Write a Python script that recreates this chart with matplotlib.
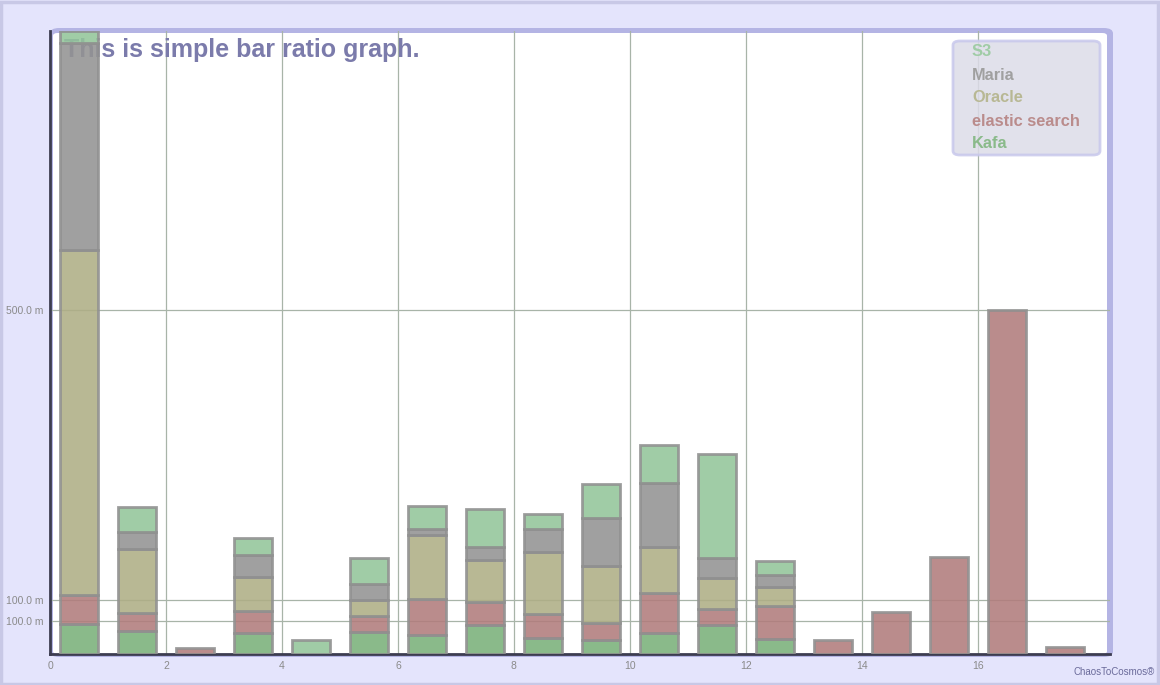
import numpy as np
import matplotlib.pyplot as plt
from matplotlib.patches import FancyBboxPatch, Rectangle

# bar ratio data (values in milli units)
series_names = ['Kafa', 'elastic search', 'Oracle', 'Maria', 'S3']
kafa    = [44, 33, 0, 31, 0, 32, 28, 42, 23, 20, 31, 42, 22, 0, 0, 0, 0, 0]
elastic = [42, 26, 9, 32, 0, 23, 52, 33, 35, 25, 57, 23, 48, 20, 61, 141, 500, 10]
oracle  = [501, 93, 0, 49, 0, 23, 93, 61, 90, 83, 67, 45, 28, 0, 0, 0, 0, 0]
maria   = [301, 25, 0, 32, 0, 23, 9, 20, 33, 70, 94, 29, 17, 0, 0, 0, 0, 0]
s3      = [17, 36, 0, 25, 20, 38, 33, 54, 22, 49, 54, 151, 20, 0, 0, 0, 0, 0]

y_ticks = [48, 78.5, 500]
y_tick_labels = ['100.0 m', '100.0 m', '500.0 m']
x_ticks = [0, 2, 4, 6, 8, 10, 12, 14, 16]

# shown colours (over white) and the base colours used with alpha
shown_colors = ['#8aba8a', '#ba8c8c', '#b8b894', '#a0a0a0', '#a0cca6']
base_colors = ['#7ab17a', '#b17c7c', '#aeae85', '#939393', '#93c59a']

fig = plt.figure(figsize=(11.6, 6.85), dpi=100)
fig.patch.set_facecolor('#e4e4fc')
W, H = 1160.0, 685.0

# outer frame of the figure
fig.patches.append(Rectangle((0.001, 0.002), 0.997, 0.995, transform=fig.transFigure,
                             fill=False, edgecolor='#c8c8e6', linewidth=2.5, zorder=-3))

# rounded lavender border and white panel behind the plot
fig.patches.append(FancyBboxPatch((50 / W, (H - 657) / H), 1063 / W, 629 / H,
                                  boxstyle='round,pad=0,rounding_size=0.008',
                                  transform=fig.transFigure, facecolor='#b4b4e4',
                                  edgecolor='none', zorder=-2))
fig.patches.append(FancyBboxPatch((53 / W, (H - 654) / H), 1054 / W, 621 / H,
                                  boxstyle='round,pad=0,rounding_size=0.004',
                                  transform=fig.transFigure, facecolor='white',
                                  edgecolor='none', zorder=-1))

ax = fig.add_axes([50 / W, 31 / H, 1060 / W, 623 / H])
ax.set_facecolor('none')

data = [kafa, elastic, oracle, maria, s3]
x = np.arange(len(kafa)) + 0.5
bottom = np.zeros(len(kafa))
for name, vals, col in zip(series_names, data, base_colors):
    vals = np.array(vals, dtype=float)
    mask = vals > 0
    ax.bar(x[mask], vals[mask], width=0.65, bottom=bottom[mask], color=col, alpha=0.88,
           edgecolor='#909090', linewidth=2, zorder=3)
    bottom += vals

ax.set_xlim(0, 18.28)
ax.set_ylim(0, 905)

ax.set_xticks(x_ticks)
ax.set_xticklabels([str(t) for t in x_ticks])
ax.set_yticks(y_ticks)
ax.set_yticklabels(y_tick_labels)
ax.tick_params(length=0, labelsize=7.5, labelcolor='#8a8a8a', pad=5)
for lab in ax.get_xticklabels() + ax.get_yticklabels():
    lab.set_family('Liberation Sans')
ax.grid(True, color='#a8b4a8', linewidth=0.9, zorder=1)

for side in ['top', 'right']:
    ax.spines[side].set_visible(False)
for side in ['left', 'bottom']:
    ax.spines[side].set_color('#3c3c50')
    ax.spines[side].set_linewidth(2)

# title sits under the bars
ax.text(0.013, 0.97, 'This is simple bar ratio graph.', transform=ax.transAxes,
        ha='left', va='center', fontsize=18, fontweight='bold', color='#7b7bab',
        family='Liberation Sans', zorder=2)

# legend box with coloured names only
fig.patches.append(FancyBboxPatch((953 / W, (H - 155) / H), 147 / W, 114 / H,
                                  boxstyle='round,pad=0,rounding_size=0.006',
                                  transform=fig.transFigure, facecolor='#dcdce8',
                                  edgecolor='#c8c8ec', linewidth=2, alpha=0.85, zorder=5))
for k, idx in enumerate([4, 3, 2, 1, 0]):
    fig.text(972 / W, (H - 52 - 23 * k) / H, series_names[idx], ha='left', va='center',
             fontsize=11.8, fontweight='bold', color=shown_colors[idx],
             family='Liberation Sans', zorder=6)

fig.text(1155 / W, (H - 672) / H, 'ChaosToCosmos\u00ae', ha='right', va='center',
         fontsize=7, color='#6a6a9a', family='Liberation Sans')

plt.savefig('out.png', dpi=100, facecolor=fig.get_facecolor())
